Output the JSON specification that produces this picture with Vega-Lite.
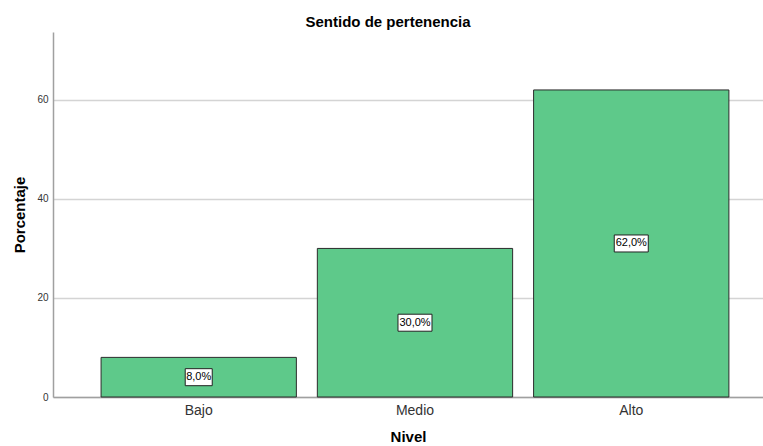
{
  "$schema": "https://vega.github.io/schema/vega-lite/v6.json",
  "width": 710,
  "height": 365,
  "autosize": "none",
  "padding": {"left": 53, "top": 32, "right": 0, "bottom": 49},
  "background": "white",
  "title": {"text": "Sentido de pertenencia", "font": "Liberation Sans", "fontSize": 15, "fontWeight": "bold", "color": "#000000", "anchor": "middle", "offset": 2, "dx": -20},
  "config": {"view": {"stroke": null}},
  "data": {"values": [
    {"Nivel": "Bajo", "Porcentaje": 8, "label": "8,0%"},
    {"Nivel": "Medio", "Porcentaje": 30, "label": "30,0%"},
    {"Nivel": "Alto", "Porcentaje": 62, "label": "62,0%"}
  ]},
  "encoding": {
    "x": {"field": "Nivel", "type": "nominal", "sort": ["Bajo", "Medio", "Alto"],
      "scale": {"paddingInner": 0.097, "paddingOuter": 0.19, "align": 0.585},
      "axis": {"title": "Nivel", "titleFont": "Liberation Sans", "titleFontSize": 15, "titleFontWeight": "bold", "titleColor": "#000", "titlePadding": 12,
        "labelAngle": 0, "labelFont": "Liberation Sans", "labelFontSize": 14, "labelColor": "#333", "labelPadding": 6,
        "ticks": false, "domainColor": "#a0a0a0", "domainWidth": 1.5, "grid": false}}
  },
  "layer": [
    {"mark": {"type": "bar", "fill": "#5ec98a", "stroke": "#2b2b2b", "strokeWidth": 1},
     "encoding": {"y": {"field": "Porcentaje", "type": "quantitative",
       "scale": {"domain": [0, 73.7], "nice": false},
       "axis": {"title": "Porcentaje", "titleFont": "Liberation Sans", "titleFontSize": 15, "titleFontWeight": "bold", "titleColor": "#000", "titlePadding": 9,
         "values": [0, 20, 40, 60], "labelFont": "Liberation Sans", "labelFontSize": 10, "labelColor": "#333", "labelPadding": 5,
         "ticks": false, "domainColor": "#a0a0a0", "domainWidth": 1.5, "grid": true, "gridColor": "#d4d4d4", "gridWidth": 1.5}}}},
    {"transform": [{"filter": "datum.Porcentaje < 10"}],
     "mark": {"type": "point", "shape": "M-1,-0.63L1,-0.63L1,0.63L-1,0.63Z", "size": 729, "filled": true, "fill": "white", "stroke": "#222", "strokeWidth": 1, "opacity": 1},
     "encoding": {"y": {"field": "Porcentaje", "type": "quantitative", "scale": {"domain": [0, 147.4], "nice": false}, "axis": null}}},
    {"transform": [{"filter": "datum.Porcentaje >= 10"}],
     "mark": {"type": "point", "shape": "M-1,-0.5L1,-0.5L1,0.5L-1,0.5Z", "size": 1156, "filled": true, "fill": "white", "stroke": "#222", "strokeWidth": 1, "opacity": 1},
     "encoding": {"y": {"field": "Porcentaje", "type": "quantitative", "scale": {"domain": [0, 147.4], "nice": false}, "axis": null}}},
    {"mark": {"type": "text", "font": "Liberation Sans", "fontSize": 11, "color": "#000", "baseline": "middle"},
     "encoding": {"y": {"field": "Porcentaje", "type": "quantitative", "scale": {"domain": [0, 147.4], "nice": false}, "axis": null}, "text": {"field": "label"}}}
  ],
  "resolve": {"scale": {"y": "independent"}}
}
